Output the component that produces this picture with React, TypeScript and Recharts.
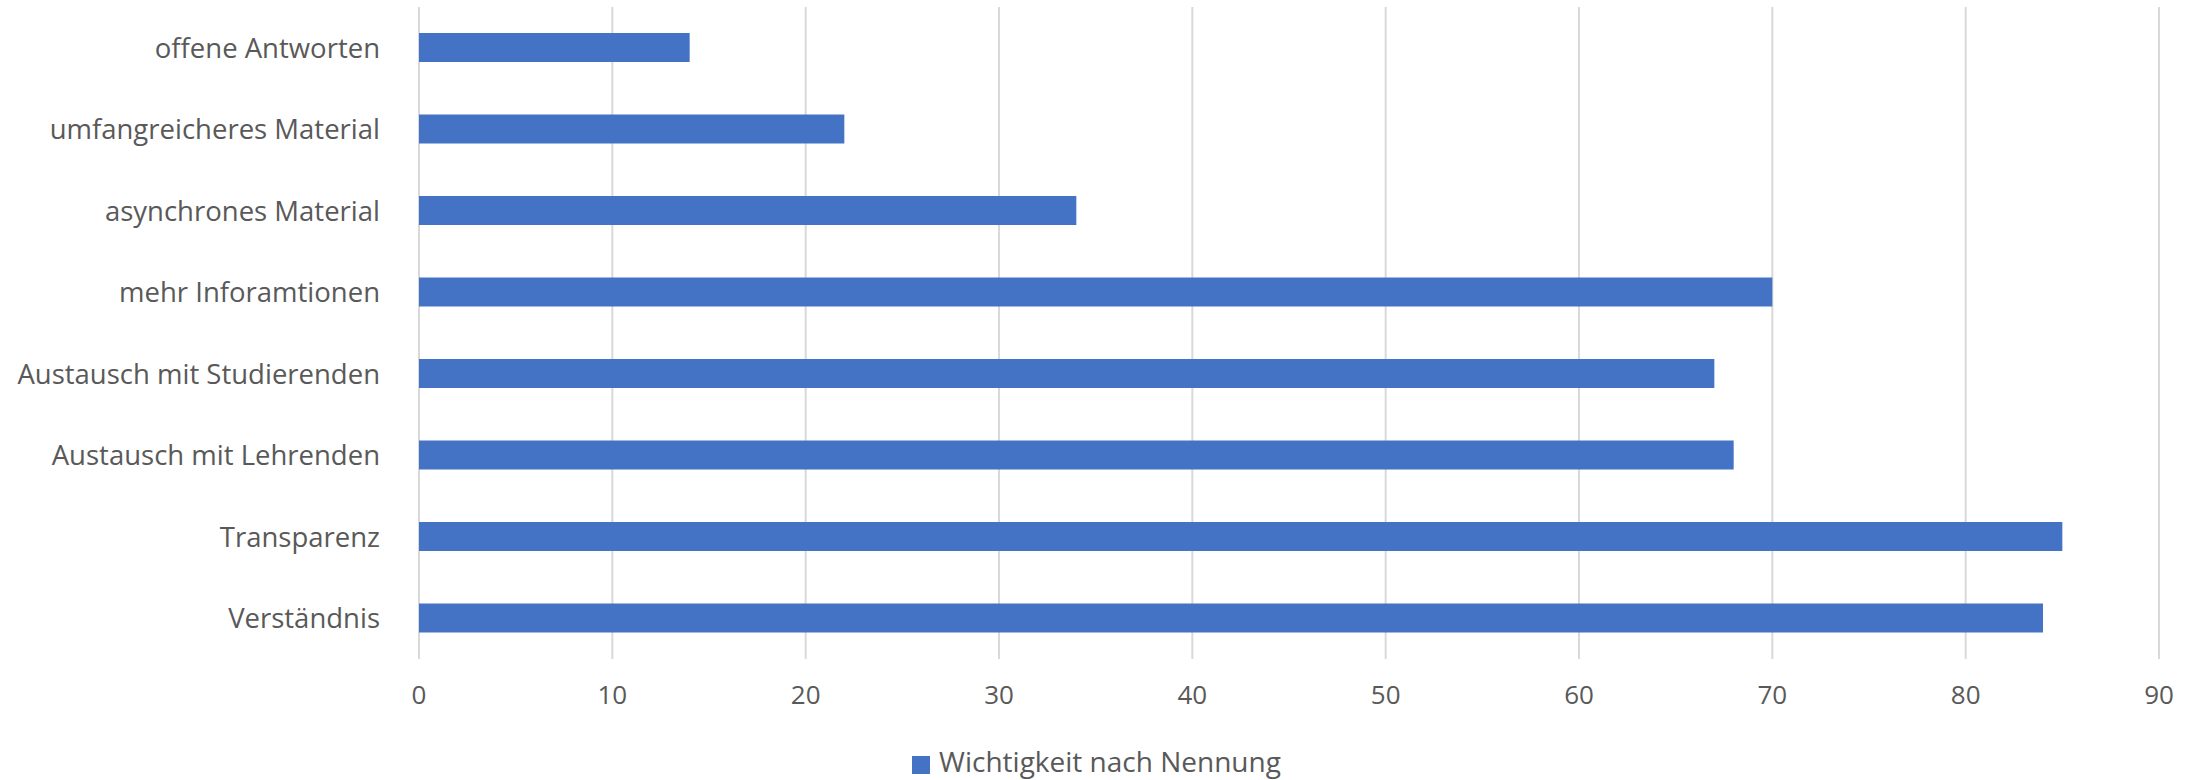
import React from "react";
import {
  BarChart,
  Bar,
  XAxis,
  YAxis,
  CartesianGrid,
  Legend,
} from "recharts";

// Excel order: first category is drawn at the bottom
const categories = [
  "Verständnis",
  "Transparenz",
  "Austausch mit Lehrenden",
  "Austausch mit Studierenden",
  "mehr Inforamtionen",
  "asynchrones Material",
  "umfangreicheres Material",
  "offene Antworten",
];
const importance = [84, 85, 68, 67, 70, 34, 22, 14];
const xTicks = [0, 10, 20, 30, 40, 50, 60, 70, 80, 90];

const seriesName = "Wichtigkeit nach Nennung";
const font = "'Open Sans', sans-serif";
const textColor = "#595959";

const data = categories.map((name, i) => ({ name, value: importance[i] }));

const App: React.FC = () => {
  return (
    <div style={{ position: "absolute", left: 0, top: 0, background: "#fff" }}>
      <BarChart
        width={2203}
        height={780}
        data={data}
        layout="vertical"
        margin={{ top: 7, right: 44, bottom: 0, left: 0 }}
      >
        <CartesianGrid horizontal={false} stroke="#d9d9d9" strokeWidth={2} />
        <XAxis
          type="number"
          domain={[0, 90]}
          ticks={xTicks}
          axisLine={false}
          tickLine={false}
          tickSize={0}
          tickMargin={27}
          height={81}
          tick={{ fill: textColor, fontSize: 26, fontFamily: font }}
        />
        <YAxis
          type="category"
          dataKey="name"
          reversed
          width={419}
          axisLine={false}
          tickLine={false}
          tickSize={0}
          tickMargin={39}
          interval={0}
          tick={{ fill: textColor, fontSize: 27.5, fontFamily: font }}
        />
        <Legend
          verticalAlign="bottom"
          iconType="square"
          iconSize={18}
          wrapperStyle={{
            top: 741,
            left: 0,
            width: 2203,
            height: 40,
            lineHeight: "40px",
            fontSize: 28,
            fontFamily: font,
          }}
          formatter={(v: string) => (
            <span style={{ color: textColor, marginLeft: 5 }}>{v}</span>
          )}
        />
        <Bar
          dataKey="value"
          name={seriesName}
          fill="#4472c4"
          barSize={29}
          isAnimationActive={false}
        />
      </BarChart>
    </div>
  );
};

export default App;
